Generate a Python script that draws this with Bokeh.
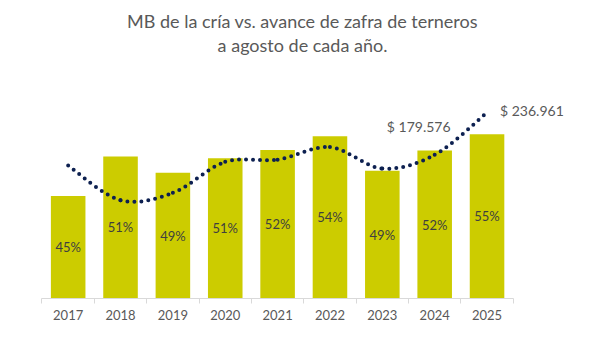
from bokeh.plotting import figure
from bokeh.models import Range1d, FixedTicker, Title, ColumnDataSource
from bokeh.core.properties import value
from bokeh.embed import file_html
from bokeh.resources import INLINE

# ---- data ----
years = ["2017", "2018", "2019", "2020", "2021", "2022", "2023", "2024", "2025"]
avance_pct = [45.1, 51.2, 48.7, 50.9, 52.2, 54.3, 49.0, 52.1, 54.6]   # avance de zafra (%)
mb_cria = [165000, 118000, 128000, 170000, 173000, 190000, 161000, 179576, 236961]  # MB de la cría ($)
labeled_years = ["2024", "2025"]
title_lines = ["MB de la cría vs. avance de zafra de terneros", "a agosto de cada año."]

FONT = "Lato"
GREY = "#595959"
n = len(years)
xc = [i + 0.5 for i in range(n)]
pct_floor = 29.34

p = figure(width=600, height=354, output_backend="svg", toolbar_location=None,
           x_range=Range1d(-0.525, 10.476), y_range=Range1d(pct_floor, 66.72),
           y_axis_location=None, title=None,
           min_border_left=14, min_border_right=10, min_border_top=55, min_border_bottom=56)
p.extra_y_ranges = {"mb": Range1d(-15367, 314287)}
p.grid.visible = False
p.outline_line_color = None
p.background_fill_color = "white"
p.border_fill_color = "white"

ax = p.xaxis[0]
ax.bounds = (0, n)
ax.ticker = FixedTicker(ticks=xc, minor_ticks=list(range(n + 1)))
ax.major_label_overrides = {x: y for x, y in zip(xc, years)}
ax.axis_line_color = "#D9D9D9"
ax.axis_line_width = 1
ax.major_tick_line_color = None
ax.major_tick_out = 0
ax.major_tick_in = 0
ax.minor_tick_line_color = "#D9D9D9"
ax.minor_tick_out = 5
ax.minor_tick_in = 0
ax.major_label_standoff = 6
ax.major_label_text_font = FONT
ax.major_label_text_font_size = "13px"
ax.major_label_text_color = GREY

# bars
p.vbar(x=xc, top=avance_pct, bottom=pct_floor, width=0.66,
       fill_color="#CCCC00", line_color=None)

# percentage labels centred in bars
p.text(x=xc, y=[(pct_floor + v) / 2 for v in avance_pct],
       text=[f"{round(v)}%" for v in avance_pct],
       text_align="center", text_baseline="middle",
       text_font=value(FONT), text_font_size="13px", text_color="#3F3F3F")

# smoothed dotted line (bezier segments, control points from neighbouring data)
pts = list(zip(xc, mb_cria))
seg = dict(x0=[], y0=[], x1=[], y1=[], cx0=[], cy0=[], cx1=[], cy1=[])
for i in range(n - 1):
    pa = pts[i - 1] if i > 0 else pts[i]
    p1 = pts[i]
    p2 = pts[i + 1]
    pb = pts[i + 2] if i + 2 < n else pts[i + 1]
    seg["x0"].append(p1[0]); seg["y0"].append(p1[1])
    seg["x1"].append(p2[0]); seg["y1"].append(p2[1])
    seg["cx0"].append(p1[0] + (p2[0] - pa[0]) / 6)
    seg["cy0"].append(p1[1] + (p2[1] - pa[1]) / 6)
    seg["cx1"].append(p2[0] - (pb[0] - p1[0]) / 6)
    seg["cy1"].append(p2[1] - (pb[1] - p1[1]) / 6)
p.bezier(x0="x0", y0="y0", x1="x1", y1="y1", cx0="cx0", cy0="cy0", cx1="cx1", cy1="cy1",
         source=ColumnDataSource(seg), y_range_name="mb",
         line_color="#0D2050", line_width=4, line_dash="0 7", line_cap="round")

# value labels
def fmt(v):
    return "$ " + f"{v:,.0f}".replace(",", ".")

idx = [years.index(y) for y in labeled_years]
lab = ColumnDataSource(dict(
    x=[xc[i] for i in idx], y=[mb_cria[i] for i in idx], t=[fmt(mb_cria[i]) for i in idx],
    xo=[-16, 13], yo=[-28, -2], al=["center", "left"]))
p.text(x="x", y="y", text="t", source=lab, y_range_name="mb",
       x_offset="xo", y_offset="yo", text_align="al", text_baseline="middle",
       text_font=value(FONT), text_font_size="14px", text_color=GREY)

# two-line centred title (last line nearest the plot)
for line in reversed(title_lines):
    p.add_layout(Title(text=line, align="center", standoff=0,
                       text_font=FONT, text_font_size="18px", text_font_style="normal",
                       text_color=GREY), "above")

open("out.html", "w").write(file_html(p, INLINE))
